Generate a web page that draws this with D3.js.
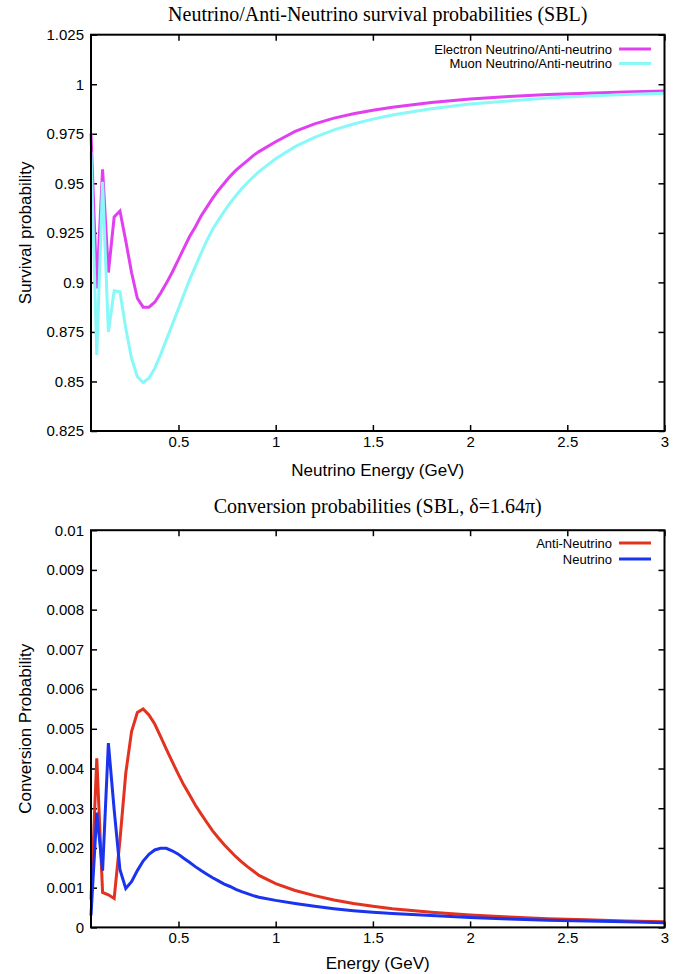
<!DOCTYPE html>
<html>
<head>
<meta charset="utf-8">
<script src="https://cdn.jsdelivr.net/npm/d3@7/dist/d3.min.js"></script>
<style>
  body { margin: 0; background: #fff; }
  svg text { font-family: "Liberation Sans", Arial, Helvetica, sans-serif; fill: #000; }
</style>
</head>
<body>
<div id="chart"></div>
<script>
// neutrino energy samples (GeV)
var energy = [0.05, 0.0798, 0.1096, 0.1394, 0.1692, 0.199, 0.2288, 0.2586, 0.2884, 0.3182,
    0.348, 0.3778, 0.4076, 0.4374, 0.4672, 0.497, 0.5268, 0.5566, 0.5864, 0.6162,
    0.646, 0.6758, 0.7056, 0.7354, 0.7652, 0.795, 0.8248, 0.8546, 0.8844, 0.9142,
    1.0, 1.1, 1.2, 1.3, 1.4, 1.5, 1.6, 1.8, 2.0, 2.2, 2.4, 2.6, 2.8, 3.0];

// survival probabilities (top panel)
var electronSurvival = [0.975, 0.897, 0.957, 0.905, 0.933, 0.936, 0.921, 0.905, 0.892, 0.8875,
    0.8875, 0.890, 0.8945, 0.8995, 0.905, 0.911, 0.917, 0.923, 0.928, 0.9335,
    0.938, 0.9425, 0.9465, 0.950, 0.9535, 0.9565, 0.959, 0.9615, 0.964, 0.966,
    0.971, 0.9762, 0.980, 0.9829, 0.9851, 0.9869, 0.9884, 0.9908, 0.9925, 0.9938, 0.9948, 0.9955, 0.9961, 0.9966];
var muonSurvival = [0.966, 0.8634, 0.9508, 0.875, 0.8958, 0.8953, 0.8768, 0.8617, 0.8524, 0.8495,
    0.8516, 0.8566, 0.8634, 0.871, 0.8785, 0.886, 0.8936, 0.9012, 0.908, 0.9147,
    0.9211, 0.9268, 0.9314, 0.9358, 0.940, 0.9437, 0.9472, 0.9503, 0.9532, 0.9559,
    0.9624, 0.9685, 0.9732, 0.977, 0.9799, 0.9824, 0.9845, 0.9876, 0.990, 0.9916, 0.993, 0.994, 0.9948, 0.9955];

// conversion probabilities (bottom panel)
var antiNeutrinoConv = [0.0007, 0.00426, 0.00088, 0.00082, 0.00073, 0.0022, 0.00388, 0.00493, 0.00541, 0.0055,
    0.00535, 0.00512, 0.00481, 0.00449, 0.00418, 0.00388, 0.00359, 0.00334, 0.00308, 0.00286,
    0.00264, 0.00243, 0.00225, 0.00208, 0.00193, 0.00178, 0.00165, 0.00153, 0.00142, 0.00131,
    0.0011, 0.00093, 0.0008, 0.00069, 0.0006, 0.00053, 0.00047, 0.00038, 0.00031, 0.00026, 0.00022, 0.00019, 0.00016, 0.00014];
var neutrinoConv = [0.0003, 0.00289, 0.00143, 0.00464, 0.00296, 0.00145, 0.00098, 0.00115, 0.00143, 0.00167,
    0.00184, 0.00195, 0.00199, 0.00199, 0.00193, 0.00185, 0.00174, 0.00164, 0.00153, 0.00143,
    0.00134, 0.00125, 0.00117, 0.00109, 0.00103, 0.00096, 0.0009, 0.00085, 0.0008, 0.00076,
    0.00068, 0.0006, 0.00053, 0.00047, 0.00042, 0.00038, 0.00035, 0.0003, 0.00025, 0.00021, 0.00018, 0.00016, 0.00014, 0.00012];

var xTicks = [0.5, 1, 1.5, 2, 2.5, 3];
var survivalTicks = [0.825, 0.85, 0.875, 0.9, 0.925, 0.95, 0.975, 1, 1.025];
var conversionTicks = [0, 0.001, 0.002, 0.003, 0.004, 0.005, 0.006, 0.007, 0.008, 0.009, 0.01];

var W = 693, H = 974;
var plotLeft = 91, plotRight = 664.5;

var svg = d3.select("#chart")
    .append("svg")
    .attr("width", W)
    .attr("height", H);

function drawPanel(p) {
    var x = d3.scaleLinear().domain([0.05, 3]).range([plotLeft, plotRight]);
    var y = d3.scaleLinear().domain(p.yDomain).range([p.bottom, p.top]);
    var g = svg.append("g");

    // inward ticks, labels on left / bottom
    g.append("g")
        .attr("transform", "translate(0," + p.bottom + ")")
        .call(d3.axisBottom(x).tickValues(xTicks).tickSize(-6).tickSizeOuter(0).tickPadding(5)
            .tickFormat(function (d) { return String(d); }));
    g.append("g")
        .attr("transform", "translate(0," + p.top + ")")
        .call(d3.axisTop(x).tickValues(xTicks).tickSize(-6).tickSizeOuter(0).tickFormat(""));
    g.append("g")
        .attr("transform", "translate(" + plotLeft + ",0)")
        .call(d3.axisLeft(y).tickValues(p.yTicks).tickSize(-6).tickSizeOuter(0).tickPadding(7)
            .tickFormat(function (d) { return String(d); }));
    g.append("g")
        .attr("transform", "translate(" + plotRight + ",0)")
        .call(d3.axisRight(y).tickValues(p.yTicks).tickSize(-6).tickSizeOuter(0).tickFormat(""));

    g.selectAll(".domain").remove();
    g.selectAll(".tick line").attr("stroke", "#000").attr("stroke-width", 1.5);
    g.selectAll(".tick text").style("font-size", "15px").attr("fill", "#000");

    // the curves
    var line = d3.line()
        .x(function (d) { return x(d[0]); })
        .y(function (d) { return y(d[1]); });

    p.series.forEach(function (s) {
        g.append("path")
            .datum(energy.map(function (e, i) { return [e, s.values[i]]; }))
            .attr("d", line)
            .attr("fill", "none")
            .attr("stroke", s.color)
            .attr("stroke-width", 3);
    });

    // frame
    g.append("rect")
        .attr("x", plotLeft).attr("y", p.top)
        .attr("width", plotRight - plotLeft).attr("height", p.bottom - p.top)
        .attr("fill", "none").attr("stroke", "#000").attr("stroke-width", 2);

    // legend
    p.series.forEach(function (s, i) {
        var ly = p.legendY + i * p.legendStep;
        g.append("text")
            .attr("x", 612).attr("y", ly).attr("dy", "0.35em")
            .attr("text-anchor", "end")
            .style("font-size", "13px")
            .text(s.label);
        g.append("line")
            .attr("x1", 619).attr("x2", 651).attr("y1", ly).attr("y2", ly)
            .attr("stroke", s.color).attr("stroke-width", 3);
    });

    // titles
    g.append("text")
        .attr("x", (plotLeft + plotRight) / 2).attr("y", p.titleY)
        .attr("text-anchor", "middle")
        .style("font-family", "'Liberation Serif', 'Times New Roman', serif")
        .style("font-size", "20px")
        .text(p.title);
    g.append("text")
        .attr("x", (plotLeft + plotRight) / 2).attr("y", p.xLabelY)
        .attr("text-anchor", "middle")
        .style("font-size", "17px")
        .text(p.xLabel);
    g.append("text")
        .attr("transform", "translate(31," + ((p.top + p.bottom) / 2) + ") rotate(-90)")
        .attr("text-anchor", "middle")
        .style("font-size", "17px")
        .text(p.yLabel);
}

drawPanel({
    top: 34.7, bottom: 431,
    yDomain: [0.825, 1.025], yTicks: survivalTicks,
    title: "Neutrino/Anti-Neutrino survival probabilities (SBL)", titleY: 21,
    xLabel: "Neutrino Energy (GeV)", xLabelY: 476,
    yLabel: "Survival probability",
    legendY: 49, legendStep: 14.5,
    series: [
        { label: "Electron Neutrino/Anti-neutrino", values: electronSurvival, color: "#e040f0" },
        { label: "Muon Neutrino/Anti-neutrino", values: muonSurvival, color: "#88f8f8" }
    ]
});

drawPanel({
    top: 530.2, bottom: 927.4,
    yDomain: [0, 0.01], yTicks: conversionTicks,
    title: "Conversion probabilities (SBL, \u03b4=1.64\u03c0)", titleY: 513,
    xLabel: "Energy (GeV)", xLabelY: 969,
    yLabel: "Conversion Probability",
    legendY: 543, legendStep: 16,
    series: [
        { label: "Anti-Neutrino", values: antiNeutrinoConv, color: "#e3321f" },
        { label: "Neutrino", values: neutrinoConv, color: "#1a33ee" }
    ]
});
</script>
</body>
</html>
